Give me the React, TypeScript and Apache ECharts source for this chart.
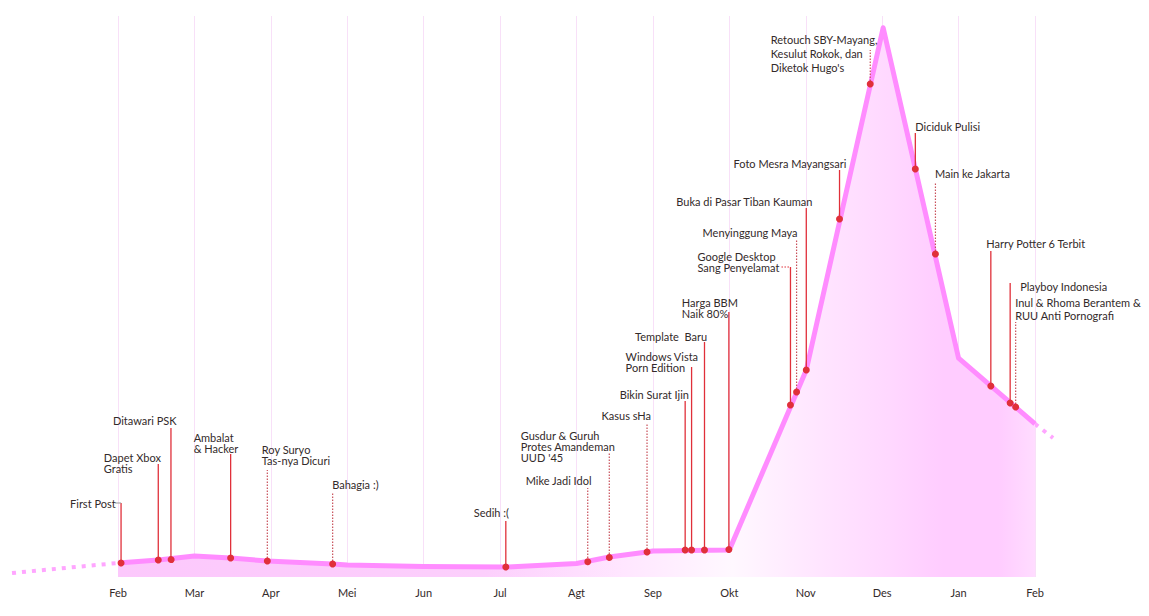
import React, { useEffect, useRef } from "react";
import * as echarts from "echarts";

// ---- data ----
const monthLabels = ["Feb", "Mar", "Apr", "Mei", "Jun", "Jul", "Agt", "Sep", "Okt", "Nov", "Des", "Jan", "Feb"];

// main trend line (x = months since Feb, y = activity level)
const trendX = [0, 0.527, 1, 1.474, 1.954, 2.809, 3, 4, 5.075, 6, 6.429, 6.923, 7, 8, 9.007, 10.013, 11, 12];
const trendY = [2.5, 3.03, 3.75, 3.39, 2.85, 2.32, 2.14, 1.87, 1.78, 2.41, 3.57, 4.46, 4.63, 4.81, 36.9, 97.9, 39.0, 27.3];

// dashed extensions before / after
const leadX = [-1.387, 0];
const leadY = [0.71, 2.5];
const tailX = [12, 12.236];
const tailY = [27.3, 24.78];

// events
const eventNames = [
  "First Post",
  "Dapet Xbox\nGratis",
  "Ditawari PSK",
  "Ambalat\n& Hacker",
  "Roy Suryo\nTas-nya Dicuri",
  "Bahagia :)",
  "Sedih :(",
  "Mike Jadi Idol",
  "Gusdur & Guruh\nProtes Amandeman\nUUD '45",
  "Kasus sHa",
  "Bikin Surat Ijin",
  "Windows Vista\nPorn Edition",
  "Template  Baru",
  "Harga BBM\nNaik 80%",
  "Google Desktop\nSang Penyelamat",
  "Menyinggung Maya",
  "Buka di Pasar Tiban Kauman",
  "Foto Mesra Mayangsari",
  "Retouch SBY-Mayang,\nKesulut Rokok, dan\nDiketok Hugo's",
  "Diciduk Pulisi",
  "Main ke Jakarta",
  "Harry Potter 6 Terbit",
  "Playboy Indonesia",
  "Inul & Rhoma Berantem &\nRUU Anti Pornografi",
];
const eventX = [0.04, 0.527, 0.693, 1.474, 1.954, 2.809, 5.075, 6.147, 6.429, 6.923, 7.422, 7.506, 7.675, 7.994, 8.8, 8.88, 9.007, 9.442, 9.844, 10.434, 10.697, 11.422, 11.675, 11.747];
const eventY = [2.5, 3.03, 3.3, 3.39, 2.85, 2.32, 1.78, 2.85, 3.57, 4.46, 4.81, 4.81, 4.81, 4.9, 30.66, 32.98, 36.9, 63.81, 87.88, 72.73, 57.58, 34.05, 31.02, 30.3];

// ---- annotation layout (pixels): leader top, text dx from dot, first-line centre, line height, dotted leader, side tick ----
const labelLayout = [
  { top: 503, dx: -51, ty: 503, lh: 11, dotted: false, tick: "gray" },
  { top: 464, dx: -54.5, ty: 457, lh: 11, dotted: false },
  { top: 428, dx: -58, ty: 420, lh: 11, dotted: false },
  { top: 454, dx: -37, ty: 437.5, lh: 11, dotted: false },
  { top: 470, dx: -5.5, ty: 449, lh: 11, dotted: true },
  { top: 492, dx: -0.5, ty: 484, lh: 11, dotted: true },
  { top: 521, dx: -32, ty: 512.5, lh: 11, dotted: false },
  { top: 488, dx: -62, ty: 480, lh: 11, dotted: true },
  { top: 453, dx: -88.5, ty: 435, lh: 11, dotted: true },
  { top: 424, dx: -45.5, ty: 415, lh: 11, dotted: true },
  { top: 401, dx: -65.5, ty: 394, lh: 11, dotted: false },
  { top: 367, dx: -66, ty: 356, lh: 11, dotted: false },
  { top: 342, dx: -69.5, ty: 336, lh: 11, dotted: false },
  { top: 312, dx: -47, ty: 302.5, lh: 11, dotted: false },
  { top: 267, dx: -93, ty: 256, lh: 11, dotted: false, tick: "red" },
  { top: 240, dx: -94, ty: 232, lh: 11, dotted: true },
  { top: 208, dx: -130, ty: 201, lh: 11, dotted: false },
  { top: 170, dx: -106, ty: 163, lh: 11, dotted: false },
  { top: 50, dx: -99.5, ty: 39, lh: 14, dotted: true },
  { top: 133, dx: 0, ty: 126.5, lh: 11, dotted: false },
  { top: 183, dx: -0.5, ty: 173, lh: 11, dotted: true },
  { top: 251, dx: -4.5, ty: 243, lh: 11, dotted: false },
  { top: 283, dx: 10, ty: 286, lh: 11, dotted: false },
  { top: 322, dx: -0.5, ty: 302.5, lh: 12.5, dotted: true },
];

const FONT = "Lato";
const TEXT_COLOR = "#332a2a";
const RED = "#e0303a";

export default function App() {
  const ref = useRef<HTMLDivElement>(null);

  useEffect(() => {
    if (!ref.current) return;
    const chart = echarts.init(ref.current, null, { renderer: "svg" });

    const trend = trendX.map((x, i) => [x, trendY[i]]);
    const extensions = [
      [leadX[0], leadY[0], leadX[1], leadY[1]],
      [tailX[0], tailY[0], tailX[1], tailY[1]],
    ];
    const events = eventX.map((x, i) => [x, eventY[i], i]);

    const option: any = {
      animation: false,
      backgroundColor: "#ffffff",
      grid: { left: 118, right: 114, top: 16, bottom: 39 },
      xAxis: {
        type: "value",
        min: 0,
        max: 12,
        interval: 1,
        axisLine: { show: false },
        axisTick: { show: false },
        axisLabel: {
          margin: 10,
          fontFamily: FONT,
          fontSize: 11,
          color: TEXT_COLOR,
          formatter: (v: number) => monthLabels[Math.round(v)] ?? "",
        },
        splitLine: { show: true, lineStyle: { color: "#f8e0f8", width: 1 } },
      },
      yAxis: {
        type: "value",
        min: 0,
        max: 100,
        show: false,
        splitLine: { show: false },
      },
      series: [
        {
          type: "line",
          data: trend,
          symbol: "none",
          z: 3,
          lineStyle: { color: "#ff8cff", width: 5, join: "round" },
          areaStyle: {
            opacity: 1,
            color: new echarts.graphic.LinearGradient(0, 0, 1, 0, [
              { offset: 0, color: "#fcc8fc" },
              { offset: 0.4, color: "#fccffc" },
              { offset: 0.55, color: "#ffe6ff" },
              { offset: 0.67, color: "#fff8ff" },
              { offset: 0.76, color: "#ffe6ff" },
              { offset: 0.84, color: "#ffd8ff" },
              { offset: 0.9, color: "#ffccff" },
              { offset: 0.96, color: "#ffccff" },
              { offset: 1, color: "#ffdcff" },
            ]),
          },
        },
        {
          type: "custom",
          data: extensions,
          encode: { x: [0, 2], y: [1, 3] },
          clip: false,
          z: 2,
          renderItem: (params: any, api: any) => {
            const a = api.coord([api.value(0), api.value(1)]);
            const b = api.coord([api.value(2), api.value(3)]);
            return {
              type: "line",
              shape: { x1: a[0], y1: a[1], x2: b[0], y2: b[1] },
              style: { stroke: "#ffa6ff", lineWidth: 4, lineDash: [4, 6] },
            };
          },
        },
        {
          type: "custom",
          data: events,
          encode: { x: 0, y: 1 },
          clip: false,
          z: 5,
          renderItem: (params: any, api: any) => {
            const i = api.value(2);
            const p = api.coord([api.value(0), api.value(1)]);
            const L = labelLayout[i];
            const children: any[] = [];
            children.push({
              type: "line",
              shape: { x1: p[0], y1: p[1], x2: p[0], y2: L.top },
              style: L.dotted
                ? { stroke: "#c8505a", lineWidth: 1.2, lineDash: [1.5, 1.5] }
                : { stroke: RED, lineWidth: 1.3 },
            });
            if (L.tick === "gray") {
              children.push({
                type: "line",
                shape: { x1: p[0] - 6, y1: L.top, x2: p[0], y2: L.top },
                style: { stroke: "#999999", lineWidth: 1 },
              });
            } else if (L.tick === "red") {
              children.push({
                type: "line",
                shape: { x1: p[0] - 9, y1: L.top, x2: p[0], y2: L.top },
                style: { stroke: RED, lineWidth: 1.2, lineDash: [1.5, 1.5] },
              });
            }
            children.push({
              type: "circle",
              shape: { cx: p[0], cy: p[1], r: 3.5 },
              style: { fill: RED },
            });
            children.push({
              type: "text",
              x: p[0] + L.dx,
              y: L.ty - L.lh / 2,
              style: {
                text: eventNames[i],
                fill: TEXT_COLOR,
                fontFamily: FONT,
                fontSize: 11,
                lineHeight: L.lh,
                align: "left",
                verticalAlign: "top",
              },
            });
            return { type: "group", children };
          },
        },
      ],
    };

    chart.setOption(option);
    return () => chart.dispose();
  }, []);

  return (
    <div
      ref={ref}
      style={{ position: "absolute", left: 0, top: 0, width: 1149, height: 616 }}
    />
  );
}
